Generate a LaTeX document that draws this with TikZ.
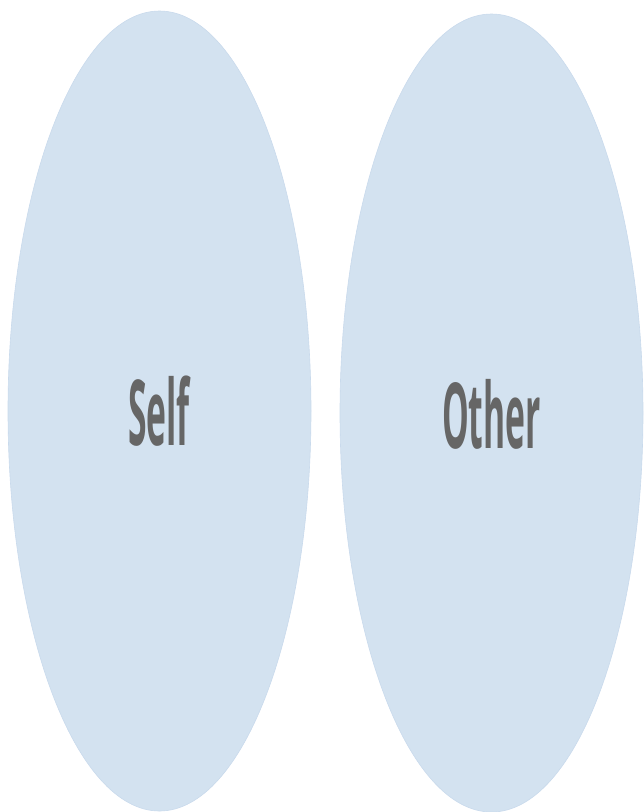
\documentclass[tikz,border=0pt]{standalone}
\usepackage{fontspec}
\setmainfont{Open Sans}
\definecolor{ellfill}{HTML}{D3E2F0}
\definecolor{ellline}{HTML}{C9DAEC}
\definecolor{txt}{HTML}{666666}
\begin{document}
\begin{tikzpicture}[x=1pt,y=-1pt,
  lbl/.style={text=txt, font=\bfseries\fontsize{91}{91}\selectfont, inner sep=0pt, anchor=base}]
\useasboundingbox (0,0) rectangle (644,812);
\fill[ellfill, draw=ellline, line width=0.6pt] (159.5,411) ellipse [x radius=151.5, y radius=400];
\fill[ellfill, draw=ellline, line width=0.6pt] (491.5,413) ellipse [x radius=151.5, y radius=399];
\node[lbl] (self) at (159,445) {\scalebox{0.37}[1]{Self}};
\node[lbl] (other) at (491.5,448) {\scalebox{0.37}[1]{Other}};
\end{tikzpicture}
\end{document}
